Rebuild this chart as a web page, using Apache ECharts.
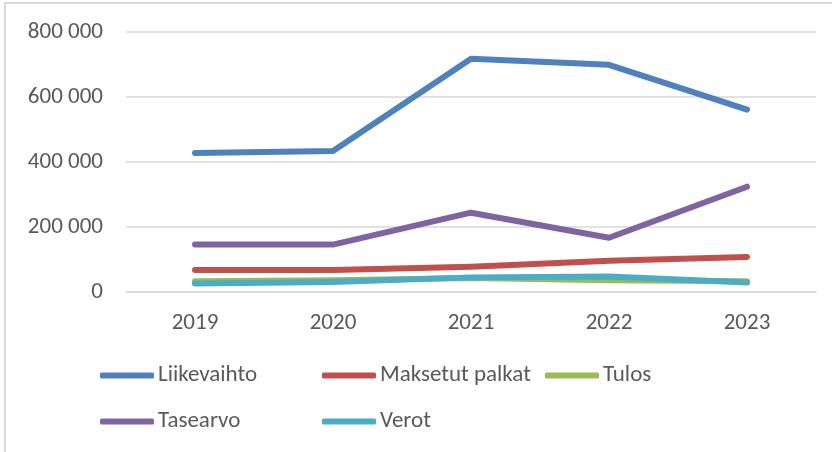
<!DOCTYPE html>
<html>
<head>
<meta charset="utf-8">
<script src="https://cdn.jsdelivr.net/npm/echarts@6/dist/echarts.min.js"></script>
<style>
html,body{margin:0;padding:0;background:#fff;}
#chart{width:832px;height:452px;}
</style>
</head>
<body>
<div id="chart"></div>
<script>
const years = ['2019', '2020', '2021', '2022', '2023'];
const liikevaihto = [428000, 434000, 718000, 699000, 561000];
const maksetutPalkat = [68000, 68000, 78000, 96000, 108000];
const tulos = [33000, 36000, 43000, 36000, 33000];
const tasearvo = [146000, 146000, 244000, 167000, 324000];
const verot = [26000, 31000, 45000, 48000, 29000];
const yTicks = [0, 200000, 400000, 600000, 800000];

const FONT = "Carlito, Lato, sans-serif";
const TXT = '#595959';
const names = ['Liikevaihto', 'Maksetut palkat', 'Tulos', 'Tasearvo', 'Verot'];
const colors = ['#4F81BD', '#C0504D', '#9BBB59', '#8064A2', '#4BACC6'];
const values = [liikevaihto, maksetutPalkat, tulos, tasearvo, verot];
const legendPos = [[100, 364], [322, 364], [545, 364], [100, 410], [322, 410]];

function fmt(v) {
  return String(v).replace(/\B(?=(\d{3})+(?!\d))/g, ' ');
}

const chart = echarts.init(document.getElementById('chart'), null, {renderer: 'canvas'});
const legends = names.map((n, i) => ({
  left: legendPos[i][0],
  top: legendPos[i][1],
  orient: 'horizontal',
  padding: 0,
  icon: 'roundRect',
  itemWidth: 54,
  itemHeight: 6,
  itemGap: 0,
  selectedMode: false,
  data: [n],
  textStyle: {fontFamily: FONT, fontSize: 23, color: TXT, padding: [0, 0, 0, -1]}
}));
chart.setOption({
  animation: false,
  color: colors,
  graphic: [{
    type: 'rect',
    shape: {x: 5, y: 3, width: 900, height: 600},
    style: {fill: 'none', stroke: '#d9d9d9', lineWidth: 2},
    silent: true, z: -1
  }],
  grid: {left: 126, right: 16, top: 32, bottom: 160, containLabel: false},
  legend: legends,
  xAxis: {
    type: 'category',
    data: years,
    boundaryGap: true,
    axisLine: {show: true, lineStyle: {color: '#d9d9d9', width: 1.5}},
    axisTick: {show: false},
    axisLabel: {fontFamily: FONT, fontSize: 23, color: TXT, margin: 20}
  },
  yAxis: {
    type: 'value',
    min: yTicks[0],
    max: yTicks[yTicks.length - 1],
    interval: yTicks[1] - yTicks[0],
    axisLine: {show: false},
    axisTick: {show: false},
    splitLine: {lineStyle: {color: '#d9d9d9', width: 1.5}},
    axisLabel: {fontFamily: FONT, fontSize: 23, color: TXT, margin: 23, formatter: fmt}
  },
  series: names.map((n, i) => ({
    name: n,
    type: 'line',
    data: values[i],
    symbol: 'none',
    showSymbol: false,
    lineStyle: {width: 6, color: colors[i], cap: 'round', join: 'round'},
    itemStyle: {color: colors[i]},
    z: 2
  }))
});
</script>
</body>
</html>
